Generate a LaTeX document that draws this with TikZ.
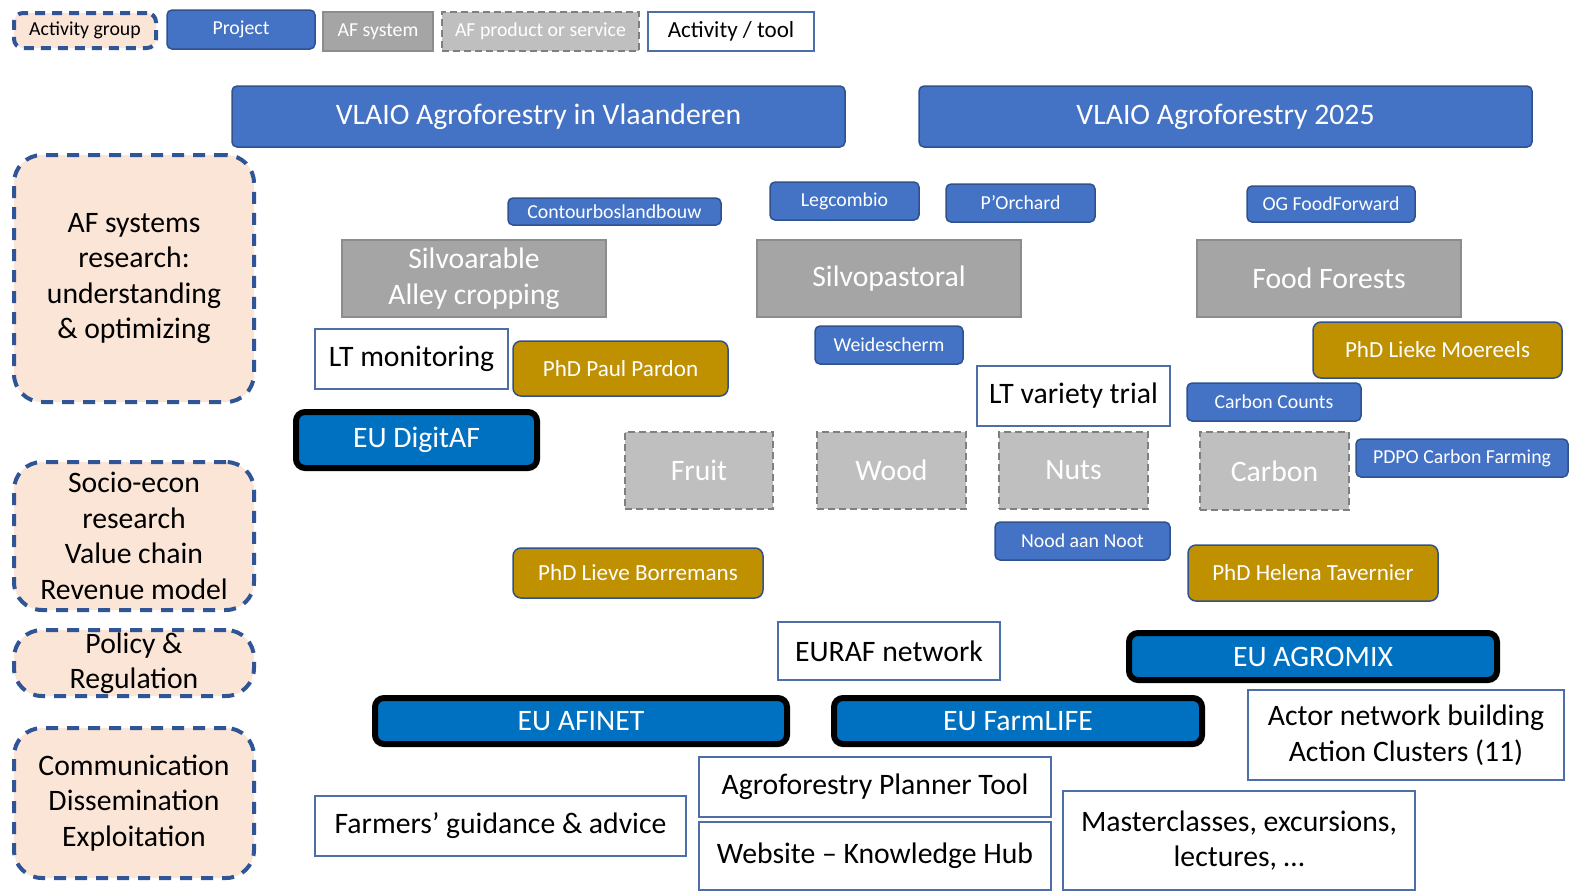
\documentclass[tikz,border=0pt]{standalone}
\usepackage{fontspec}
\setmainfont{Carlito}
\definecolor{peach}{HTML}{FBE5D6}
\definecolor{grpblue}{HTML}{2F5597}
\definecolor{projblue}{HTML}{4472C4}
\definecolor{projedge}{HTML}{2F528F}
\definecolor{sysgray}{HTML}{A5A5A5}
\definecolor{sysedge}{HTML}{8C8C8C}
\definecolor{prodgray}{HTML}{BFBFBF}
\definecolor{prodedge}{HTML}{7F7F7F}
\definecolor{phdgold}{HTML}{BF9000}
\definecolor{eublue}{HTML}{0070C0}
\newcommand{\fsz}[1]{\fontsize{#1}{35.5}\selectfont}
\tikzset{
  box/.style={inner sep=0pt, outer sep=0pt, align=center},
  grp/.style={box, draw=grpblue, line width=4pt, dash pattern=on 12pt off 9pt,
    fill=peach, rounded corners=28pt, text=black, font=\fsz{29.7}},
  proj/.style={box, draw=projedge, line width=1.5pt, fill=projblue,
    rounded corners=5pt, text=white, font=\fsz{19.8}},
  afsys/.style={box, draw=sysedge, line width=1.5pt, fill=sysgray,
    text=white, font=\fsz{29.7}},
  afprod/.style={box, draw=prodedge, line width=1.8pt, dash pattern=on 7pt off 4pt,
    fill=prodgray, text=white, font=\fsz{29.7}},
  tool/.style={box, draw=grpblue!85, line width=1.8pt, fill=white,
    text=black, font=\fsz{29.7}},
  phd/.style={box, draw=projedge, line width=1.5pt, fill=phdgold,
    rounded corners=8pt, text=white, font=\fsz{23.1}},
  eu/.style={box, draw=black, line width=6pt, fill=eublue,
    rounded corners=9pt, text=white, font=\fsz{29.7}},
  sz/.style 2 args={minimum width=#1pt, minimum height=#2pt}
}
\begin{document}
\begin{tikzpicture}[x=1pt, y=-1pt]
\fill[white] (0,0) rectangle (1588,892);

% legend
\node[grp, sz={142}{35}, rounded corners=9pt, dash pattern=on 10pt off 7pt, font=\fsz{19.8}] (legGroup) at (85,30.5) {Activity group};
\node[proj, sz={148}{39}] (legProj) at (241,29.5) {Project};
\node[afsys, sz={110}{39}, font=\fsz{19.8}] (legSys) at (378,31.5) {AF system};
\node[afprod, sz={197}{39}, font=\fsz{19.8}] (legProd) at (540.5,31.5) {AF product or service};
\node[tool, sz={166}{39}, font=\fsz{23.1}] (legTool) at (731,31.5) {Activity / tool};

% activity groups
\node[grp, sz={240}{247}] (grpSys) at (134,278.5) {AF systems\\research:\\understanding\\\& optimizing};
\node[grp, sz={240}{148}] (grpEcon) at (134,536) {Socio-econ\\research\\Value chain\\Revenue model};
\node[grp, sz={240}{66}] (grpPolicy) at (134,663) {Policy \&\\Regulation};
\node[grp, sz={240}{150}] (grpComm) at (134,803) {Communication\\Dissemination\\Exploitation};

% regional projects
\node[proj, sz={613}{61}, font=\fsz{29.7}] (vlaioVl) at (538.5,116.5) {VLAIO Agroforestry in Vlaanderen};
\node[proj, sz={613}{61}, font=\fsz{29.7}] (vlaio25) at (1225.5,116.5) {VLAIO Agroforestry 2025};
\node[proj, sz={213}{27}] (contour) at (614.5,211.5) {Contourboslandbouw};
\node[proj, sz={149}{38}] (legcombio) at (844.5,201) {Legcombio};
\node[proj, sz={149}{38}] (porchard) at (1020.5,203) {P’Orchard};
\node[proj, sz={168}{36}] (foodfwd) at (1331,204) {OG FoodForward};
\node[proj, sz={148}{38}] (weide) at (889,345) {Weidescherm};
\node[proj, sz={174}{38}] (carbcount) at (1274,402) {Carbon Counts};
\node[proj, sz={212}{38}] (pdpo) at (1462,458) {PDPO Carbon Farming};
\node[proj, sz={175}{38}] (nood) at (1082.5,541) {Nood aan Noot};

% AF systems
\node[afsys, sz={264}{77}] (silvoar) at (474,278.5) {Silvoarable\\Alley cropping};
\node[afsys, sz={264}{77}] (silvopast) at (889,278.5) {Silvopastoral};
\node[afsys, sz={264}{77}] (foodfor) at (1329,278.5) {Food Forests};

% AF products
\node[afprod, sz={148}{77}] (fruit) at (699,470.5) {Fruit};
\node[afprod, sz={149}{77}] (wood) at (891.5,470.5) {Wood};
\node[afprod, sz={149}{77}] (nuts) at (1073.5,470.5) {Nuts};
\node[afprod, sz={149}{78}] (carbon) at (1274.5,471) {Carbon};

% PhDs
\node[phd, sz={215}{55}] (phdPaul) at (620.5,368.5) {PhD Paul Pardon};
\node[phd, sz={249}{56}] (phdLieke) at (1437.5,350) {PhD Lieke Moereels};
\node[phd, sz={250}{50}] (phdLieve) at (638,573) {PhD Lieve Borremans};
\node[phd, sz={250}{56}] (phdHelena) at (1313,573) {PhD Helena Tavernier};

% EU projects
\node[eu, sz={241}{56}] (euDigit) at (416.5,440) {EU DigitAF};
\node[eu, sz={368}{47}] (euAgromix) at (1313,656.5) {EU AGROMIX};
\node[eu, sz={412}{46}] (euAfinet) at (581,721) {EU AFINET};
\node[eu, sz={368}{46}] (euFarm) at (1018,721) {EU FarmLIFE};

% activities and tools
\node[tool, sz={193}{60}] (ltmon) at (411.5,359) {LT monitoring};
\node[tool, sz={193}{60}] (ltvar) at (1073.5,396) {LT variety trial};
\node[tool, sz={222}{58}] (euraf) at (889,651) {EURAF network};
\node[tool, sz={316}{90}] (actor) at (1406,735) {Actor network building\\Action Clusters (11)};
\node[tool, sz={352}{60}] (planner) at (875,787) {Agroforestry Planner Tool};
\node[tool, sz={371}{60}] (farmers) at (500.5,826) {Farmers’ guidance \& advice};
\node[tool, sz={352}{68}] (website) at (875,856) {Website – Knowledge Hub};
\node[tool, sz={352}{99}] (master) at (1239,840.5) {Masterclasses, excursions,\\lectures, …};

\pgfresetboundingbox
\useasboundingbox (0,0) rectangle (1588,892);
\end{tikzpicture}
\end{document}
